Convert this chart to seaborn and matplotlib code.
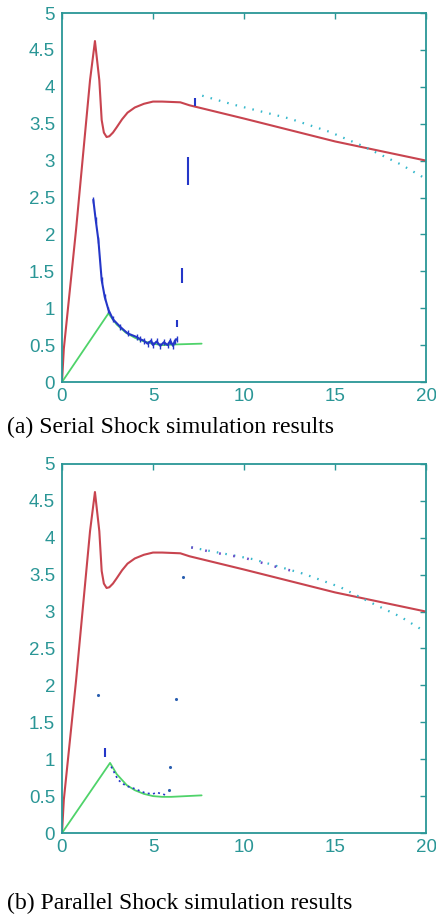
import numpy as np
import pandas as pd
import matplotlib
matplotlib.use("Agg")
import matplotlib.pyplot as plt
import seaborn as sns

# ---------------- data ----------------
red_x = [0, 0.1, 0.77, 1.54, 1.81, 2.05, 2.18, 2.3, 2.45, 2.6, 2.8, 3.0, 3.3, 3.6, 4.0, 4.5, 5.0, 5.5, 6.5, 7.0, 10, 15, 20]
red_y = [0, 0.45, 2.06, 4.09, 4.62, 4.09, 3.55, 3.38, 3.32, 3.33, 3.38, 3.45, 3.56, 3.65, 3.72, 3.77, 3.8, 3.8, 3.79, 3.75, 3.57, 3.26, 3.0]

cyan_a_x = [7.7, 9.4, 12.5, 14.7, 16.5, 18.6, 19.8]
cyan_a_y = [3.88, 3.76, 3.57, 3.39, 3.2, 2.95, 2.78]

cyan_b_x = [7.1, 10.5, 13.3, 15.3, 16.9, 18.6, 19.8]
cyan_b_y = [3.87, 3.71, 3.51, 3.33, 3.13, 2.93, 2.75]

purple_b_x = [7.1, 8.0, 9.0, 10.0, 11.0, 12.0, 13.2]
purple_b_y = [3.87, 3.82, 3.77, 3.73, 3.66, 3.59, 3.52]

green_a_x = [0, 2.55, 3.0, 3.5, 4.0, 4.5, 5.0, 5.5, 6.3, 7.67]
green_a_y = [0, 0.93, 0.78, 0.67, 0.6, 0.55, 0.52, 0.5, 0.51, 0.52]

green_b_x = [0, 2.64, 3.0, 3.55, 4.0, 4.5, 5.0, 5.5, 6.0, 7.67]
green_b_y = [0, 0.95, 0.8, 0.65, 0.58, 0.53, 0.5, 0.49, 0.49, 0.51]

blue_a_x = [1.72, 1.85, 2.0, 2.18, 2.35, 2.55, 2.8, 3.19, 3.6, 4.1, 4.3, 4.5, 4.7, 4.9, 5.0, 5.2, 5.4, 5.6, 5.8, 5.95, 6.1, 6.2, 6.3]
blue_a_y = [2.47, 2.2, 1.92, 1.38, 1.15, 0.98, 0.85, 0.75, 0.66, 0.61, 0.58, 0.56, 0.52, 0.56, 0.5, 0.55, 0.49, 0.54, 0.5, 0.56, 0.49, 0.56, 0.58]

# isolated blue fragments (serial): (x, y_low, y_high)
frag_a_x = [6.3, 6.6, 6.9, 7.3]
frag_a_lo = [0.75, 1.34, 2.67, 3.74]
frag_a_hi = [0.84, 1.54, 3.05, 3.85]

blue_b_x = [2.7, 3.08, 3.5, 4.0, 4.29, 4.6, 5.0, 5.2, 5.5, 5.75]
blue_b_y = [0.9, 0.72, 0.64, 0.6, 0.57, 0.54, 0.53, 0.55, 0.53, 0.51]

dots_b_x = [2.0, 6.26, 5.93, 6.65, 5.9]
dots_b_y = [1.87, 1.82, 0.89, 3.47, 0.58]
frag_b_x = [2.36]
frag_b_lo = [1.03]
frag_b_hi = [1.15]

x_ticks = [0, 5, 10, 15, 20]
y_ticks = [0, 0.5, 1, 1.5, 2, 2.5, 3, 3.5, 4, 4.5, 5]
captions = ["(a) Serial Shock simulation results", "(b) Parallel Shock simulation results"]

# ---------------- style ----------------
sns.set_style("white")
plt.rcParams['font.family'] = ['Liberation Sans', 'DejaVu Sans']

TEAL = "#2a9696"
RED = "#c8444f"
GREEN = "#4fd36a"
BLUE = "#2436c8"
CYAN = "#35b8cc"
PURPLE = "#6a4cc8"

fig = plt.figure(figsize=(4.36, 9.23), dpi=100)
ax1 = fig.add_axes([0.1422, 0.5861, 0.835, 0.3998])
ax2 = fig.add_axes([0.1422, 0.0975, 0.835, 0.3998])


def line(ax, xs, ys, **kw):
    df = pd.DataFrame({"x": xs, "y": ys})
    sns.lineplot(data=df, x="x", y="y", ax=ax, sort=False, estimator=None, **kw)


def frags(ax, xs, lo, hi, color):
    fx, fy = [], []
    for a, l, h in zip(xs, lo, hi):
        fx += [a, a, np.nan]
        fy += [l, h, np.nan]
    ax.plot(fx, fy, color=color, lw=1.5, solid_capstyle="butt")


for ax in (ax1, ax2):
    line(ax, red_x, red_y, color=RED, lw=1.5)

# Serial
line(ax1, green_a_x, green_a_y, color=GREEN, lw=1.3)
line(ax1, blue_a_x, blue_a_y, color=BLUE, lw=1.5, marker="|", markersize=4,
     markeredgewidth=1.0, markeredgecolor=BLUE)
frags(ax1, frag_a_x, frag_a_lo, frag_a_hi, BLUE)
line(ax1, cyan_a_x, cyan_a_y, color=CYAN, lw=1.6, dashes=(0.7, 3.2))

# Parallel
line(ax2, green_b_x, green_b_y, color=GREEN, lw=1.3)
line(ax2, blue_b_x, blue_b_y, color=BLUE, lw=1.2, dashes=(1.2, 2.0))
frags(ax2, frag_b_x, frag_b_lo, frag_b_hi, BLUE)
sns.scatterplot(x=dots_b_x, y=dots_b_y, ax=ax2, color="#2a5fb0", s=5, linewidth=0)
line(ax2, cyan_b_x, cyan_b_y, color=CYAN, lw=1.6, dashes=(0.7, 3.2))
line(ax2, purple_b_x, purple_b_y, color=PURPLE, lw=1.8, dashes=(0.7, 5.0))

for ax in (ax1, ax2):
    ax.set_xlim(0, 20)
    ax.set_ylim(0, 5)
    ax.set_xticks(x_ticks)
    ax.set_yticks(y_ticks)
    ax.set_yticklabels([f"{v:g}" for v in y_ticks])
    ax.set_xticklabels([f"{v:g}" for v in x_ticks])
    ax.set_xlabel("")
    ax.set_ylabel("")
    ax.tick_params(direction="in", top=True, right=True, length=4, width=1,
                   color=TEAL, labelcolor=TEAL, labelsize=13.5)
    ax.tick_params(axis="y", pad=5)
    ax.tick_params(axis="x", pad=4.5)
    for s in ax.spines.values():
        s.set_color(TEAL)
        s.set_linewidth(1.3)
        s.set_visible(True)
    if ax.get_legend():
        ax.get_legend().remove()

fig.text(7 / 436, 1 - 427 / 923, captions[0], family=["Liberation Serif", "DejaVu Serif"],
         fontsize=17.1, va="center", ha="left", color="black")
fig.text(7 / 436, 1 - 903 / 923, captions[1], family=["Liberation Serif", "DejaVu Serif"],
         fontsize=17.1, va="center", ha="left", color="black")

fig.savefig("out.png", dpi=100)
